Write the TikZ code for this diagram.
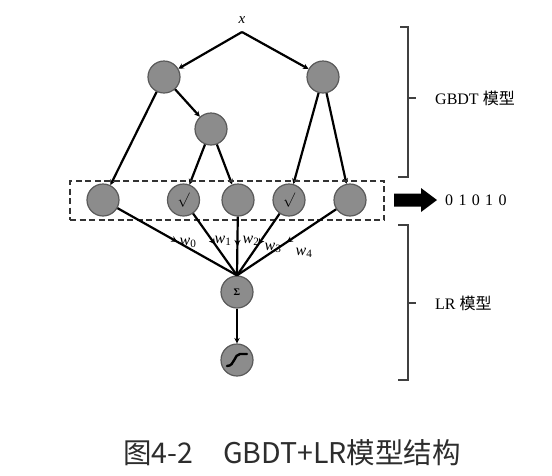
\documentclass[tikz,border=0pt]{standalone}
\usepackage{fontspec}
\setmainfont{Liberation Serif}
\newfontfamily\cjk{Noto Sans CJK SC}
\usetikzlibrary{arrows.meta,decorations.markings}
\definecolor{nodefill}{RGB}{140,140,140}
\definecolor{nodedraw}{RGB}{90,90,90}
\definecolor{captiongray}{RGB}{45,45,45}
\begin{document}
\begin{tikzpicture}[x=1pt,y=-1pt,
  neuron/.style={circle,draw=nodedraw,fill=nodefill,line width=1.2pt,minimum size=32pt,inner sep=0pt},
  edge/.style={line width=2.2pt,-{Stealth[length=5.5pt,width=5.5pt]}},
  wedge/.style={line width=2.2pt,postaction={decorate},
    decoration={markings,mark=at position 0.5 with {\arrow{Stealth[length=6pt,width=6pt]}}}},
  wlab/.style={inner sep=0pt,font=\fontsize{16}{16}\selectfont},
  brk/.style={draw=black!75,line width=1.1pt},
  side/.style={anchor=west,inner sep=0pt,font=\fontsize{16}{16}\selectfont}]
\useasboundingbox[fill=white] (0,0) rectangle (552,475);

% tree
\node[inner sep=0pt,font=\fontsize{15}{15}\selectfont\itshape] (xl) at (242,20) {x};
\coordinate (apex) at (242,32);
\node[neuron] (A) at (164,77) {};
\node[neuron] (B) at (323,77) {};
\node[neuron] (C) at (211,129) {};

\node[neuron] (L0) at (103,200) {};
\node[neuron] (L1) at (183.5,200) {\fontsize{15}{15}\selectfont$\surd$};
\node[neuron] (L2) at (238,200) {};
\node[neuron] (L3) at (289,200) {\fontsize{15}{15}\selectfont$\surd$};
\node[neuron] (L4) at (350,200) {};

\draw[edge] (apex) -- (A);
\draw[edge] (apex) -- (B);
\draw[edge] (A) -- (C);
\draw[edge] (A) -- (L0);
\draw[edge] (C) -- (L1);
\draw[edge] (C) -- (L2);
\draw[edge] (B) -- (L3);
\draw[edge] (B) -- (L4);

% dashed box
\node[draw=black!80,dashed,dash pattern=on 6pt off 3.5pt,line width=2pt,
  minimum width=314pt,minimum height=39pt,inner sep=0pt] (box) at (227,200.5) {};

% LR part
\node[neuron] (S) at (237,292) {\fontsize{10}{10}\selectfont\textbf{Σ}};
\node[neuron] (G) at (237,360) {};
\draw[line width=2.4pt,line cap=round] ([shift={(-10,6)}]G.center)
  .. controls ([shift={(-2,6)}]G.center) and ([shift={(-3,-6)}]G.center) .. ([shift={(3,-6)}]G.center)
  -- ([shift={(10,-6)}]G.center);

\draw[wedge] (L0) -- (S.north);
\draw[wedge] (L1) -- (S.north);
\draw[wedge] (L2) -- (S.north);
\draw[wedge] (L3) -- (S.north);
\draw[wedge] (L4) -- (S.north);
\draw[edge] (S) -- (G);

\node[wlab] (w0) at (188,243) {\textit{w}\textsubscript{0}};
\node[wlab] (w1) at (223,241) {\textit{w}\textsubscript{1}};
\node[wlab] (w2) at (251,241) {\textit{w}\textsubscript{2}};
\node[wlab] (w3) at (273,248) {\textit{w}\textsubscript{3}};
\node[wlab] (w4) at (304,253) {\textit{w}\textsubscript{4}};

% big arrow and code
\fill (394,193.5) -- (421,193.5) -- (421,188) -- (437,200) -- (421,212) -- (421,206.5) -- (394,206.5) -- cycle;
\node[side] (code) at (445,200) {0\,\,1\,\,0\,\,1\,\,0};

% brackets
\draw[brk] (400,27) -- (408,27) -- (408,177) -- (398,177);
\draw[brk] (408,98) -- (416,98);
\node[side] (gbdt) at (435,98) {GBDT {\cjk 模型}};
\draw[brk] (398,225) -- (408,225) -- (408,380) -- (398,380);
\draw[brk] (408,303) -- (416,303);
\node[side] (lr) at (435,303) {LR {\cjk 模型}};

% caption
\node[inner sep=0pt,text=captiongray,font=\cjk\fontsize{28.5}{28.5}\selectfont] (cap) at (292,453)
  {图4-2\hspace{30pt}GBDT+LR模型结构};
\end{tikzpicture}
\end{document}
